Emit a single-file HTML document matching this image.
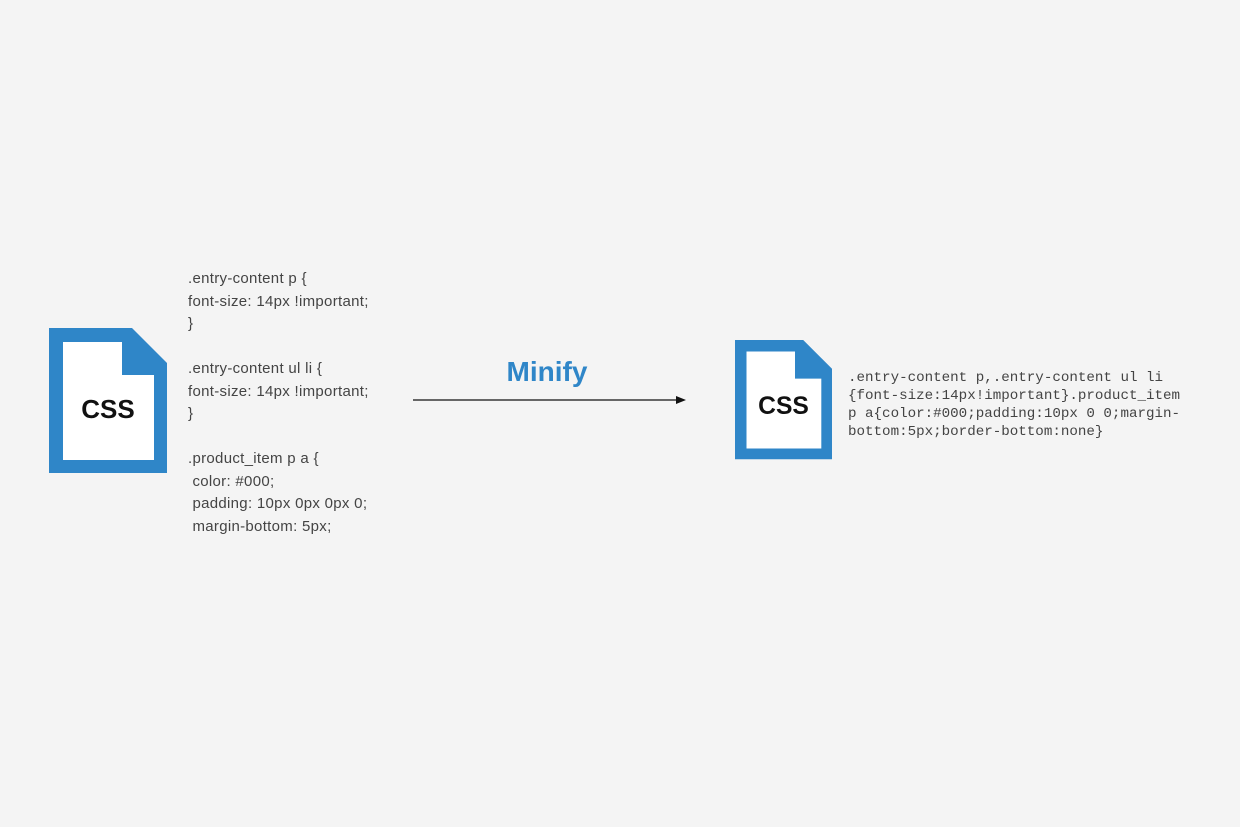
<!DOCTYPE html>
<html><head><meta charset="utf-8"><style>
body{margin:0;width:1240px;height:827px;background:#f4f4f4;position:relative;overflow:hidden;font-family:"Liberation Sans",sans-serif}
.t{position:absolute;color:#444;font-size:15px;letter-spacing:0.3px;line-height:22.5px;white-space:pre}
.m{position:absolute;left:848px;top:369px;font-family:"Liberation Mono",monospace;font-size:14.2px;line-height:18px;color:#444;white-space:pre}
</style></head><body>
<svg width="1240" height="827" style="position:absolute;left:0;top:0">
<path d="M49 328H132L167 363V473H49Z" fill="#2f86c8"/>
<path d="M63 342H122V375H154V460H63Z" fill="#fff"/>
<text x="108" y="418" text-anchor="middle" font-family="Liberation Sans,sans-serif" font-weight="bold" font-size="26" fill="#111">CSS</text>
<g transform="translate(735,340) scale(0.822) translate(-49,-328)">
<path d="M49 328H132L167 363V473H49Z" fill="#2f86c8"/>
<path d="M63 342H122V375H154V460H63Z" fill="#fff"/>
<text x="108" y="418" text-anchor="middle" font-family="Liberation Sans,sans-serif" font-weight="bold" font-size="30" fill="#111">CSS</text>
</g>
<line x1="413" y1="400" x2="678" y2="400" stroke="#111" stroke-width="1.3"/>
<path d="M686 400L676 396V404Z" fill="#111"/>
<text x="547" y="381" text-anchor="middle" font-family="Liberation Sans,sans-serif" font-weight="bold" font-size="28" fill="#2f86c8">Minify</text>
</svg>
<div class="t" style="left:188px;top:268px">.entry-content p {
font-size: 14px !important;
}

.entry-content ul li {
font-size: 14px !important;
}

.product_item p a {
 color: #000;
 padding: 10px 0px 0px 0;
 margin-bottom: 5px;</div>
<div class="m">.entry-content p,.entry-content ul li
{font-size:14px!important}.product_item
p a{color:#000;padding:10px 0 0;margin-
bottom:5px;border-bottom:none}</div>
</body></html>
